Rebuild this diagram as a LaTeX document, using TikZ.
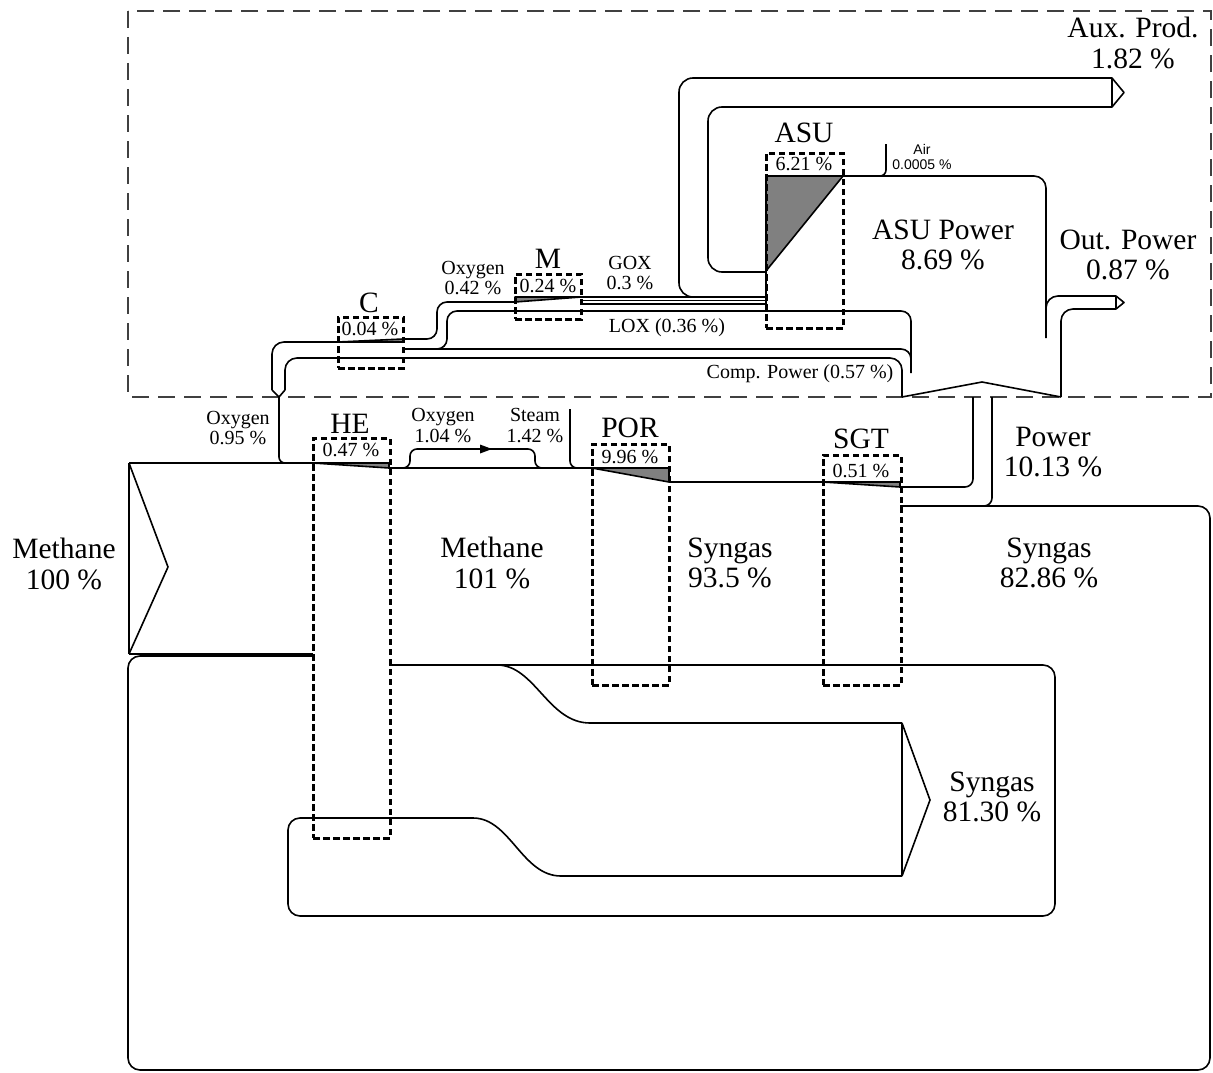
\documentclass[tikz,border=0pt]{standalone}
\usepackage{fontspec}
\setmainfont{Liberation Serif}
\newfontfamily\sansf{Liberation Sans}
\begin{document}
\begin{tikzpicture}[x=1pt,y=-1pt,
  flow/.style={line width=1.6pt, line join=round},
  lossw/.style={flow, fill=black!50},
  dbox/.style={draw, line width=3pt, dash pattern=on 6.5pt off 3.5pt, inner sep=0pt},
  frame/.style={draw=black!75, line width=1.7pt, dash pattern=on 17pt off 9pt},
  big/.style={font=\fontsize{29.5}{30.5}\selectfont, align=center, inner sep=0pt},
  med/.style={font=\fontsize{20}{20.5}\selectfont, align=center, inner sep=0pt},
  boxt/.style={font=\fontsize{29.5}{30}\selectfont, inner sep=0pt, anchor=base},
  boxn/.style={font=\fontsize{20}{20}\selectfont, inner sep=0pt, anchor=base},
  small/.style={font=\sansf\fontsize{14}{15}\selectfont, align=center, inner sep=0pt}]
\useasboundingbox (0,0) rectangle (1213,1073);

% outer dashed frame
\draw[frame] (128,11) rectangle (1211,397);

% ---------------- methane input ----------------
\draw[flow] (129,463) -- (129,654);
\draw[flow] (129,463) -- (168,567) -- (129,654);
\draw[flow] (129,463) -- (313,463);
\draw[flow] (129,654) -- (313,654);
% oxygen 0.95 from above
\draw[flow, rounded corners=6] (279,397) -- (279,463) -- (295,463);
% HE loss wedge
\filldraw[lossw] (313,463) -- (389,463) -- (389,468) -- cycle;
% methane top line after HE
\draw[flow] (389,468) -- (592,468);
% oxygen 1.04 bump
\draw[flow, rounded corners=7] (398,468) -- (410,468) -- (410,449) -- (535,449) -- (535,468) -- (547,468);
\fill (480,444.5) -- (492,449) -- (480,453.5) -- cycle;
% steam
\draw[flow, rounded corners=7] (570,409) -- (570,468) -- (585,468);
% POR loss wedge
\filldraw[lossw] (592,468) -- (669,468) -- (669,482) -- cycle;
\draw[flow] (669,482) -- (823,482);
% SGT loss wedge
\filldraw[lossw] (823,482) -- (900,482) -- (900,487) -- cycle;
% power up from SGT
\draw[flow, rounded corners=8] (900,487) -- (973,487) -- (973,397);
\draw[flow, rounded corners=8] (992,397) -- (992,506) -- (980,506);
% syngas outer loop
\draw[flow, rounded corners=12] (900,506) -- (1210,506) -- (1210,1070) -- (128,1070) -- (128,656) -- (313,656);
% main bottom line and inner loop
\draw[flow, rounded corners=12] (389,665) -- (1055,665) -- (1055,916) -- (288,916) -- (288,818) -- (473,818);
\draw[flow] (473,818) .. controls (510,818) and (522,876) .. (561,876) -- (902,876);
\draw[flow] (497,665) .. controls (535,665) and (548,723) .. (590,723) -- (902,723);
% syngas 81.30 arrow
\draw[flow] (902,723) -- (902,876);
\draw[flow] (902,723) -- (930,800) -- (902,876);

% ---------------- upper part ----------------
% oxygen funnel
\draw[flow] (272,390) -- (279,397) -- (285,390);
\draw[flow, rounded corners=12] (272,390) -- (272,342) -- (338,342);
\filldraw[lossw] (338,342) -- (403,339) -- (403,342) -- cycle;
\draw[flow, rounded corners=10] (403,339) -- (437,339) -- (437,302) -- (515,302);
\draw[flow, rounded corners=12] (285,390) -- (285,358) -- (902,358) -- (902,397);
% compression power / LOX lines
\draw[flow, rounded corners=10] (403,349) -- (911,349) -- (911,365);
\draw[flow, rounded corners=10] (432,349) -- (447,349) -- (447,311) -- (911,311) -- (911,373);
% power hat
\draw[flow] (902,397) -- (982,382) -- (1061,397);
% out power
\draw[flow, rounded corners=12] (1061,397) -- (1061,309) -- (1116,309);
\draw[flow, rounded corners=12] (1046,322) -- (1046,296) -- (1116,296);
\draw[flow] (1116,296) -- (1124,302.5) -- (1116,309) -- cycle;
% ASU power
\draw[flow, rounded corners=12] (843,176) -- (1046,176) -- (1046,338);
% air
\draw[flow, rounded corners=6] (886,144) -- (886,176) -- (876,176);
% M loss wedge and GOX lines
\filldraw[lossw] (515,297) -- (581,297) -- (515,302) -- cycle;
\draw[flow] (581,297) -- (766,297);
\draw[flow] (581,300.5) -- (766,300.5);
\draw[flow] (581,304) -- (766,304);
% aux product
\draw[flow, rounded corners=14] (766,297) -- (679,297) -- (679,78) -- (1112,78);
\draw[flow] (1112,78) -- (1124,92.5) -- (1112,107) -- cycle;
\draw[flow, rounded corners=14] (1112,107) -- (708,107) -- (708,272) -- (766,272);
% ASU loss
\filldraw[lossw] (766,176) -- (843,176) -- (766,271) -- cycle;
\draw[flow] (766,271) -- (766,305);

% ---------------- dashed component boxes ----------------
\node[dbox, minimum width=77pt, minimum height=400pt] (HE) at (351.5,638) {};
\node[dbox, minimum width=77pt, minimum height=241pt] (POR) at (630.5,564.5) {};
\node[dbox, minimum width=78pt, minimum height=230pt] (SGT) at (862,570) {};
\node[dbox, minimum width=65pt, minimum height=51pt] (C) at (370.5,342.5) {};
\node[dbox, minimum width=66pt, minimum height=45pt] (M) at (548,296.5) {};
\node[dbox, minimum width=77pt, minimum height=175pt] (ASU) at (804.5,240.5) {};

% box labels
\node[boxt] (HEt) at (350,433) {HE};
\node[boxn] (HEn) at (351,456) {0.47 \%};
\node[boxt] (PORt) at (630,437) {POR};
\node[boxn] (PORn) at (630,463) {9.96 \%};
\node[boxt] (SGTt) at (861,448) {SGT};
\node[boxn] (SGTn) at (861,477) {0.51 \%};
\node[boxt] (Ct) at (369,312) {C};
\node[boxn] (Cn) at (370,335) {0.04 \%};
\node[boxt] (Mt) at (548,268) {M};
\node[boxn] (Mn) at (548,292) {0.24 \%};
\node[boxt] (ASUt) at (804,142) {ASU};
\node[boxn] (ASUn) at (804,170) {6.21 \%};

% flow labels
\node[big] (l1) at (64,564) {Methane\\100 \%};
\node[big] (l2) at (492,563) {Methane\\101 \%};
\node[big] (l3) at (730,563) {Syngas\\93.5 \%};
\node[big] (l4) at (1049,563) {Syngas\\82.86 \%};
\node[big] (l5) at (992,797) {Syngas\\81.30 \%};
\node[big] (l6) at (1053,452) {Power\\10.13 \%};
\node[big] (l7) at (943,245) {ASU Power\\8.69 \%};
\node[big] (l8) at (1128,255) {Out. Power\\0.87 \%};
\node[big] (l9) at (1133,43) {Aux. Prod.\\1.82 \%};
\node[med] (m1) at (238,428) {Oxygen\\0.95 \%};
\node[med] (m2) at (443,425.5) {Oxygen\\1.04 \%};
\node[med] (m3) at (535,425.5) {Steam\\1.42 \%};
\node[med] (m4) at (473,278) {Oxygen\\0.42 \%};
\node[med] (m5) at (630,273) {GOX\\0.3 \%};
\node[med, anchor=base] (m6) at (667,332) {LOX (0.36 \%)};
\node[med, anchor=base] (m7) at (800,378) {Comp. Power (0.57 \%)};
\node[small] (air) at (922,157) {Air\\0.0005 \%};
\end{tikzpicture}
\end{document}
